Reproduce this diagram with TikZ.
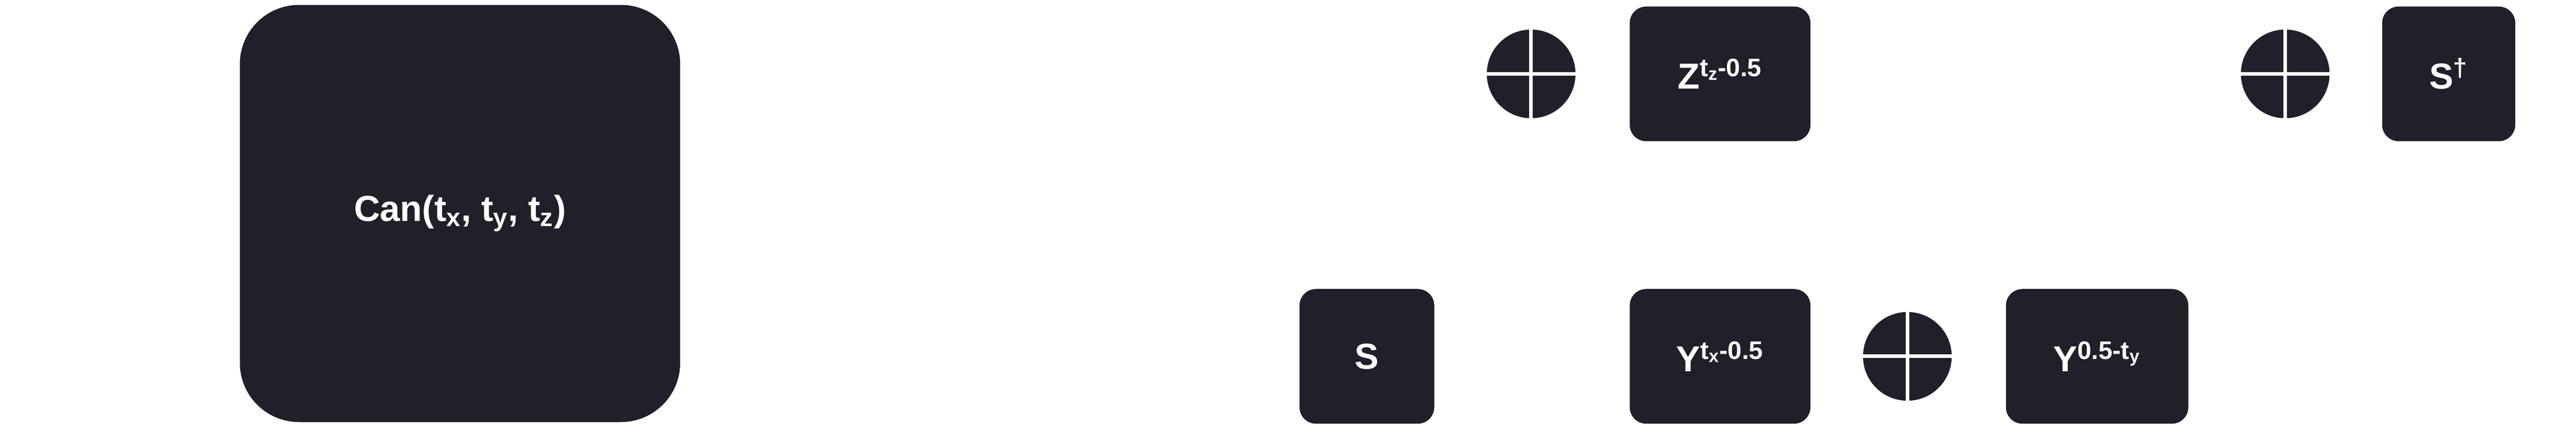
\documentclass[tikz,border=0pt]{standalone}
\usepackage{fontspec}
\setmainfont{Liberation Sans}
\definecolor{dk}{HTML}{1F2029}
\begin{document}
\begin{tikzpicture}[x=1pt,y=1pt,
  box/.style={fill=dk,draw=none,rounded corners=10pt,minimum height=82pt,text=white,font=\fontsize{22}{26}\selectfont\bfseries,inner sep=0pt},
  oplus/.style={circle,fill=dk,minimum size=54pt,inner sep=0pt}]
\useasboundingbox (0,0) rectangle (1568,261);
\node[box,minimum width=268pt,minimum height=254pt,rounded corners=36pt] (can) at (280,131) {Can(t\textsubscript{x}, t\textsubscript{y}, t\textsubscript{z})};
\node[box,minimum width=110pt] (z) at (1047,216) {Z\textsuperscript{t\textsubscript{z}-0.5}};
\node[box,minimum width=81pt] (sd) at (1490.5,216) {S\textsuperscript{\dag}};
\node[box,minimum width=82pt] (s) at (832,44) {S};
\node[box,minimum width=110pt] (ytx) at (1047,44) {Y\textsuperscript{t\textsubscript{x}-0.5}};
\node[box,minimum width=111pt] (yty) at (1276.5,44) {Y\textsuperscript{0.5-t\textsubscript{y}}};
\foreach \n/\x/\y in {p1/932/216,p2/1391/216,p3/1161/44}{
  \node[oplus] (\n) at (\x,\y) {};
  \draw[white,line width=2.2pt] (\n.north) -- (\n.south) (\n.west) -- (\n.east);
}
\end{tikzpicture}
\end{document}
